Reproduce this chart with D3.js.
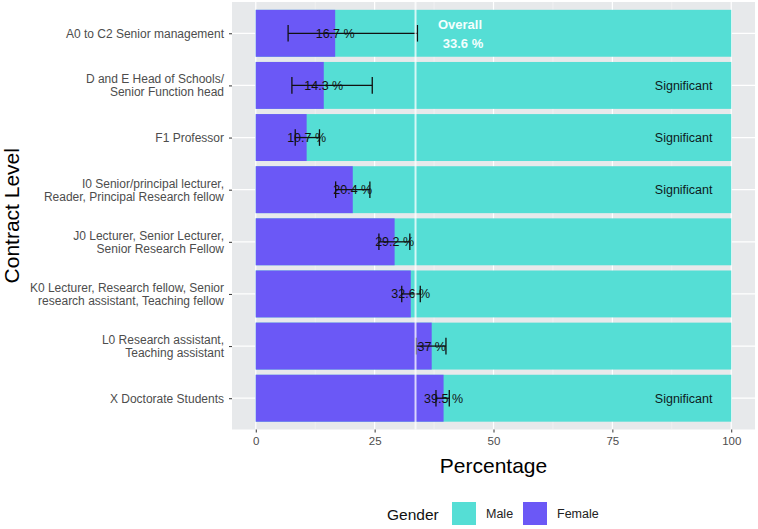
<!DOCTYPE html>
<html><head><meta charset="utf-8">
<script src="https://cdn.jsdelivr.net/npm/d3@7"></script>
<style>body{margin:0;background:#fff}svg{display:block;font-family:"Liberation Sans",Arial,sans-serif}</style>
</head><body><svg id="c" width="758" height="529"></svg>
<script>
const categories = [
  ["A0 to C2 Senior management"],
  ["D and E Head of Schools/", "Senior Function head"],
  ["F1 Professor"],
  ["I0 Senior/principal lecturer,", "Reader, Principal Research fellow"],
  ["J0 Lecturer, Senior Lecturer,", "Senior Research Fellow"],
  ["K0 Lecturer, Research fellow, Senior", "research assistant, Teaching fellow"],
  ["L0 Research assistant,", "Teaching assistant"],
  ["X Doctorate Students"]
];
const femalePct = [16.7, 14.3, 10.7, 20.4, 29.2, 32.6, 37, 39.5];
const errLow  = [6.8, 7.6, 8.3, 16.8, 25.9, 30.7, 33.7, 37.9];
const errHigh = [34.0, 24.5, 13.4, 24.0, 32.4, 34.6, 40.0, 40.7];
const significant = [false, true, true, true, false, false, false, true];
const overallPct = 33.6;
const xTicks = [0, 25, 50, 75, 100];
const genders = ["Male", "Female"];
const colors = {Male: "#55ded5", Female: "#6b58f6"};

const svg = d3.select("#c");
const L = 232, R = 755, T = 2, B = 429.5;
const x = d3.scaleLinear().domain([-5, 105]).range([L, R]);
const ids = categories.map((d, i) => i);
const y = d3.scalePoint().domain(ids).range([T, B]).padding(0.6);
const step = y.step(), bw = step * 0.9;

svg.append("rect").attr("x", L).attr("y", T).attr("width", R - L).attr("height", B - T).attr("fill", "#e7e9eb");
const minor = [12.5, 37.5, 62.5, 87.5];
svg.append("g").selectAll("line").data(minor).join("line")
  .attr("x1", d => x(d)).attr("x2", d => x(d)).attr("y1", T).attr("y2", B)
  .attr("stroke", "#f6f7f7").attr("stroke-width", 0.6);
svg.append("g").selectAll("line").data(xTicks).join("line")
  .attr("x1", d => x(d)).attr("x2", d => x(d)).attr("y1", T).attr("y2", B)
  .attr("stroke", "#fff").attr("stroke-width", 1.2);
svg.append("g").selectAll("line").data(ids).join("line")
  .attr("x1", L).attr("x2", R).attr("y1", d => y(d)).attr("y2", d => y(d))
  .attr("stroke", "#fff").attr("stroke-width", 1.2);

const bars = svg.append("g");
bars.selectAll("rect.m").data(ids).join("rect")
  .attr("x", x(0)).attr("y", d => y(d) - bw / 2).attr("width", x(100) - x(0)).attr("height", bw)
  .attr("fill", colors.Male);
bars.selectAll("rect.f").data(ids).join("rect")
  .attr("x", x(0)).attr("y", d => y(d) - bw / 2).attr("width", d => x(femalePct[d]) - x(0)).attr("height", bw)
  .attr("fill", colors.Female);

svg.append("g").selectAll("text").data(ids).join("text")
  .attr("x", d => x(femalePct[d])).attr("y", d => y(d)).attr("dy", "0.36em")
  .attr("text-anchor", "middle").attr("font-size", 12.5).attr("fill", "#111")
  .text(d => femalePct[d] + " %");

const eb = svg.append("g").attr("stroke", "#111").attr("stroke-width", 1.3);
const cap = 8.3;
ids.forEach(i => {
  const cy = y(i);
  eb.append("line").attr("x1", x(errLow[i])).attr("x2", x(errHigh[i])).attr("y1", cy).attr("y2", cy);
  eb.append("line").attr("x1", x(errLow[i])).attr("x2", x(errLow[i])).attr("y1", cy - cap).attr("y2", cy + cap);
  eb.append("line").attr("x1", x(errHigh[i])).attr("x2", x(errHigh[i])).attr("y1", cy - cap).attr("y2", cy + cap);
});

svg.append("g").selectAll("text").data(ids.filter(i => significant[i])).join("text")
  .attr("x", x(90)).attr("y", d => y(d)).attr("dy", "0.36em")
  .attr("text-anchor", "middle").attr("font-size", 12.5).attr("fill", "#0d1b22")
  .text("Significant");

svg.append("line").attr("x1", x(overallPct)).attr("x2", x(overallPct)).attr("y1", T).attr("y2", B)
  .attr("stroke", "#fff").attr("stroke-opacity", 0.75).attr("stroke-width", 2);
svg.append("text").attr("x", 460).attr("y", 29).attr("text-anchor", "middle")
  .attr("font-size", 13).attr("font-weight", "bold").attr("fill", "#f4fffe").text("Overall");
svg.append("text").attr("x", 463).attr("y", 48).attr("text-anchor", "middle")
  .attr("font-size", 13).attr("font-weight", "bold").attr("fill", "#f4fffe").text(overallPct + " %");

const xa = svg.append("g").attr("transform", `translate(0,${B})`)
  .call(d3.axisBottom(x).tickValues(xTicks).tickSize(3).tickPadding(4).tickFormat(d3.format("d")));
xa.select(".domain").remove();
xa.selectAll("line").attr("stroke", "#333");
xa.selectAll("text").attr("font-size", 11.5).attr("fill", "#4d4d4d").attr("font-family", "Liberation Sans, Arial, sans-serif");

const ya = svg.append("g").attr("transform", `translate(${L},0)`)
  .call(d3.axisLeft(y).tickSize(3).tickPadding(5).tickFormat(""));
ya.select(".domain").remove();
ya.selectAll("line").attr("stroke", "#333");
ids.forEach(i => {
  const lines = categories[i];
  const t = svg.append("text").attr("text-anchor", "end").attr("font-size", 12).attr("fill", "#4d4d4d");
  const lh = 13;
  lines.forEach((s, k) => {
    t.append("tspan").attr("x", 224).attr("y", y(i) + (k - (lines.length - 1) / 2) * lh).attr("dy", "0.36em").text(s);
  });
});

svg.append("text").attr("x", x(50)).attr("y", 473).attr("text-anchor", "middle")
  .attr("font-size", 21).attr("fill", "#000").text("Percentage");
svg.append("text").attr("transform", `translate(19,${(T + B) / 2}) rotate(-90)`)
  .attr("text-anchor", "middle").attr("font-size", 21).attr("fill", "#000").text("Contract Level");

const lg = svg.append("g");
lg.append("text").attr("x", 387).attr("y", 520).attr("font-size", 15.5).attr("fill", "#111").text("Gender");
const sx = [452, 523];
genders.forEach((g, k) => {
  lg.append("rect").attr("x", sx[k]).attr("y", 502).attr("width", 24).attr("height", 23).attr("fill", colors[g]);
  lg.append("text").attr("x", sx[k] + 34).attr("y", 518).attr("font-size", 12.5).attr("fill", "#222").text(g);
});
</script></body></html>
